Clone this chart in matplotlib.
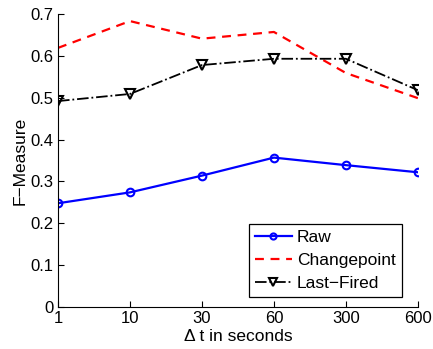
import matplotlib.pyplot as plt

plt.rcParams['font.family'] = ['Liberation Sans', 'DejaVu Sans']

# delta t values (categorical, evenly spaced)
dt_labels = ['1', '10', '30', '60', '300', '600']
raw = [0.248, 0.274, 0.314, 0.357, 0.339, 0.322]
changepoint = [0.619, 0.683, 0.641, 0.657, 0.559, 0.499]
last_fired = [0.492, 0.509, 0.578, 0.593, 0.593, 0.518]

xs = list(range(len(dt_labels)))

fig = plt.figure(figsize=(4.33, 3.49), dpi=100)
ax = fig.add_axes([0.134, 0.120, 0.831, 0.840])

ax.plot(xs, raw, 'b-', marker='o', markersize=5.5, markerfacecolor='none',
        markeredgewidth=1.5, linewidth=1.6, label='Raw')
ax.plot(xs, changepoint, 'r--', linewidth=1.6, dashes=(4, 3), label='Changepoint')
ax.plot(xs, last_fired, 'k-.', marker='v', markersize=6.5, markerfacecolor='none',
        markeredgewidth=1.5, linewidth=1.3, label='Last\u2212Fired')

ax.set_xlim(0, len(dt_labels) - 1)
ax.set_ylim(0, 0.7)
ax.set_xticks(xs)
ax.set_xticklabels(dt_labels)
ax.set_yticks([0, 0.1, 0.2, 0.3, 0.4, 0.5, 0.6, 0.7])
ax.set_yticklabels(['0', '0.1', '0.2', '0.3', '0.4', '0.5', '0.6', '0.7'])
ax.tick_params(direction='in', labelsize=12, length=4, pad=3)
ax.spines['top'].set_visible(False)
ax.spines['right'].set_visible(False)

ax.set_xlabel('\u0394 t in seconds', fontsize=12.5, labelpad=2)
ax.set_ylabel('F\u2212Measure', fontsize=12.5, labelpad=2)

leg = ax.legend(loc='lower right', bbox_to_anchor=(0.955, 0.034), fontsize=12.5,
                fancybox=False, edgecolor='black', framealpha=1,
                handlelength=2.1, borderpad=0.35, labelspacing=0.45,
                handletextpad=0.3, borderaxespad=0, markerscale=0.8)
leg.get_frame().set_linewidth(0.9)

fig.savefig('out.png', dpi=100)
